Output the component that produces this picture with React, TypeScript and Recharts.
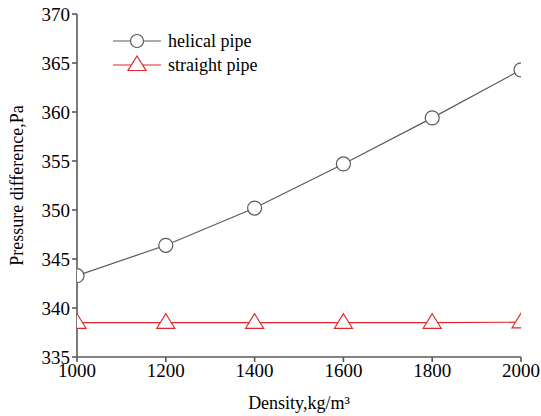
import React from 'react';
import { LineChart, Line, XAxis, YAxis } from 'recharts';

// Values
const densities = [1000, 1200, 1400, 1600, 1800, 2000];
const helicalPipe = [343.3, 346.4, 350.2, 354.7, 359.4, 364.3];
const straightPipe = [338.5, 338.5, 338.5, 338.5, 338.5, 338.55];
const xTicks = [1000, 1200, 1400, 1600, 1800, 2000];
const yTicks = [335, 340, 345, 350, 355, 360, 365, 370];

const data = densities.map((d, i) => ({
  density: d,
  helical: helicalPipe[i],
  straight: straightPipe[i],
}));

const FONT = '"Liberation Serif", "DejaVu Serif", serif';
const GRAY = '#5a5a5a';
const RED = '#e0262c';

const TriangleDot = ({ cx, cy }: any) => {
  if (cx == null || cy == null) return null;
  const r = 9;
  return (
    <path
      d={`M${cx},${cy - r} L${cx + r},${cy + r * 0.62} L${cx - r},${cy + r * 0.62} Z`}
      fill="#fff"
      stroke={RED}
      strokeWidth={1.2}
    />
  );
};

const legendItems = [
  { label: 'helical pipe', color: GRAY, type: 'circle' },
  { label: 'straight pipe', color: RED, type: 'triangle' },
];

const ChartLegend = () => (
  <div
    style={{
      position: 'absolute',
      left: 113,
      top: 29,
      fontFamily: FONT,
      fontSize: 18,
      color: '#000',
      lineHeight: '24px',
    }}
  >
    {legendItems.map((it) => (
      <div key={it.label} style={{ display: 'flex', alignItems: 'center', height: 24 }}>
        <svg width={50} height={20}>
          <line x1={0} y1={10} x2={48} y2={10} stroke={it.color} strokeWidth={1.2} />
          {it.type === 'circle' ? (
            <circle cx={24} cy={10} r={6.5} fill="#fff" stroke={it.color} strokeWidth={1.2} />
          ) : (
            <path d="M24,1 L33,15.5 L15,15.5 Z" fill="#fff" stroke={it.color} strokeWidth={1.2} />
          )}
        </svg>
        <span style={{ marginLeft: 5 }}>{it.label}</span>
      </div>
    ))}
  </div>
);

export default function App() {
  return (
    <div style={{ position: 'absolute', left: 0, top: 0, width: 541, height: 416, background: '#fff' }}>
      <LineChart
        width={541}
        height={416}
        data={data}
        margin={{ top: 14, right: 20, bottom: 0, left: 0 }}
      >
        <XAxis
          dataKey="density"
          type="number"
          domain={[1000, 2000]}
          ticks={xTicks}
          allowDataOverflow
          height={59}
          stroke={GRAY}
          strokeWidth={1.6}
          tickSize={5}
          tick={{ fill: '#000', fontFamily: FONT, fontSize: 19 }}
          label={{
            value: 'Density,kg/m³',
            position: 'insideBottom',
            offset: 7,
            fill: '#000',
            fontFamily: FONT,
            fontSize: 18,
          }}
        />
        <YAxis
          type="number"
          domain={[335, 370]}
          ticks={yTicks}
          allowDataOverflow
          width={77}
          stroke={GRAY}
          strokeWidth={1.6}
          tickSize={5}
          tick={{ fill: '#000', fontFamily: FONT, fontSize: 19 }}
          label={{
            value: 'Pressure difference,Pa',
            angle: -90,
            position: 'insideLeft',
            offset: 17,
            style: { textAnchor: 'middle' },
            fill: '#000',
            fontFamily: FONT,
            fontSize: 18,
          }}
        />
        <Line
          dataKey="helical"
          stroke={GRAY}
          strokeWidth={1.2}
          dot={{ r: 7, fill: '#fff', stroke: GRAY, strokeWidth: 1.2, clipDot: true }}
          isAnimationActive={false}
        />
        <Line
          dataKey="straight"
          stroke={RED}
          strokeWidth={1.2}
          dot={<TriangleDot />}
          isAnimationActive={false}
        />
      </LineChart>
      <ChartLegend />
    </div>
  );
}
